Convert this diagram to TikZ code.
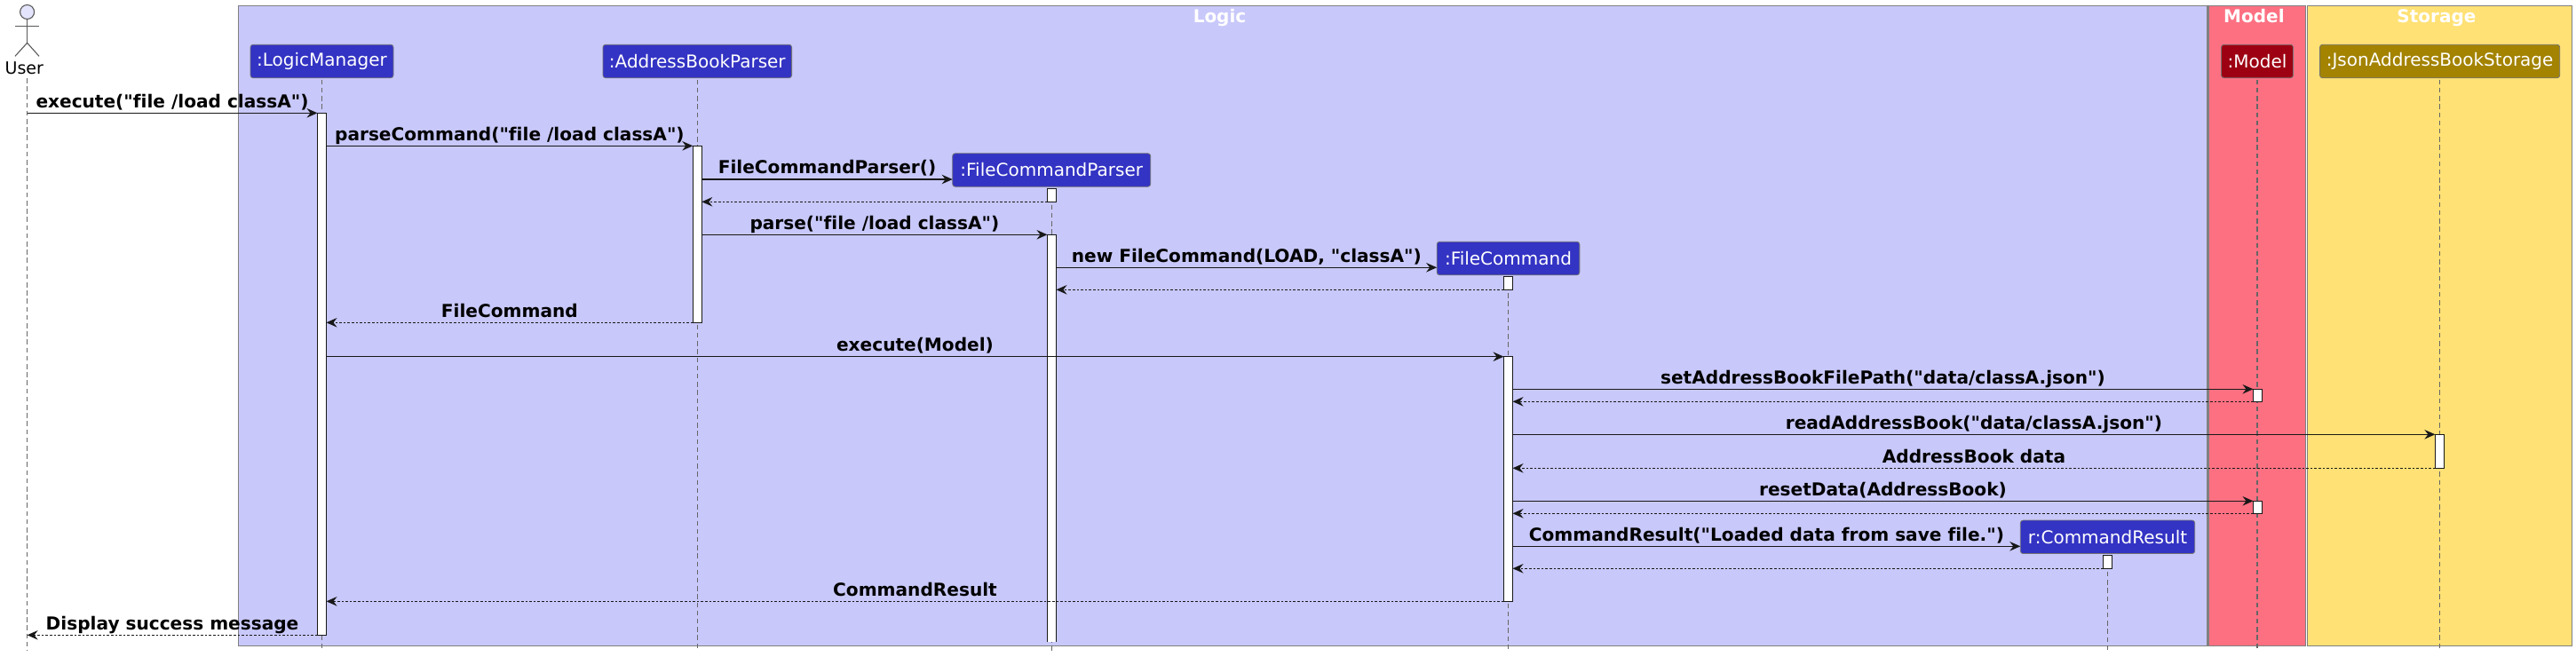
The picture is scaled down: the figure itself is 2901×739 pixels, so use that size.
\documentclass[tikz,border=0pt]{standalone}
\usepackage{fontspec}
\newfontfamily\diagramfont[Ligatures=NoCommon]{DejaVu Sans}
\usetikzlibrary{arrows.meta}
\definecolor{logicfill}{HTML}{C8C8FA}
\definecolor{logicdark}{HTML}{3333C4}
\definecolor{modelfill}{HTML}{FD7082}
\definecolor{modeldark}{HTML}{9D0012}
\definecolor{storagefill}{HTML}{FFE175}
\definecolor{storagedark}{HTML}{A38300}
\definecolor{inkline}{HTML}{181818}
\begin{document}
\begin{tikzpicture}[
    x=1pt, y=-1pt,
    every node/.style={inner sep=0pt, outer sep=0pt},
    groupbox/.style={rectangle, draw=black!50, line width=1.3pt, minimum height=721pt},
    grouptitle/.style={anchor=base, xshift=-3.5pt, yshift=-18.7pt, text=white, font=\diagramfont\fontsize{20}{24}\selectfont\bfseries},
    partbox/.style={rectangle, rounded corners=3pt, minimum height=37.5pt, text=white, draw=black!55, line width=0.8pt, font=\diagramfont\fontsize{20}{24}\selectfont},
    lifeline/.style={draw=black!60, line width=1.1pt, dash pattern=on 5.5pt off 3.7pt, shorten <=2pt},
    activebar/.style={rectangle, anchor=north, fill=white, draw=inkline, line width=1.5pt, minimum width=10pt},
    callmsg/.style={draw=inkline, line width=1.3pt, -{Stealth[length=12pt, width=10.5pt, inset=4pt]}},
    replymsg/.style={draw=inkline, line width=1.1pt, dash pattern=on 2.6pt off 2pt, -{Stealth[length=12pt, width=10.5pt, inset=4pt]}},
    msglabel/.style={midway, anchor=base, yshift=6.2pt, text=black, font=\diagramfont\fontsize{20.1}{24}\selectfont\bfseries}
]
    \useasboundingbox (0,0) rectangle (2901,739);
    \coordinate (lineend) at (0,733);

    % groups
    \node[groupbox, fill=logicfill, minimum width=2217pt] (logicbox) at (1377,366.8) {};
    \node[groupbox, fill=modelfill, minimum width=109.7pt] (modelbox) at (2541.9,366.8) {};
    \node[groupbox, fill=storagefill, minimum width=298pt] (storagebox) at (2747.4,366.8) {};
    \node[grouptitle] (logictitle) at (logicbox.north) {Logic};
    \node[grouptitle] (modeltitle) at (modelbox.north) {Model};
    \node[grouptitle] (storagetitle) at (storagebox.north) {Storage};

    % actor
    \node[circle, draw=black!65, fill=logicfill!50!white, line width=1.1pt, minimum size=16pt] (userhead) at (30.6,13.5) {};
    \coordinate (userhip) at (30.6,48.3);
    \coordinate (userleftarm) at (17,29.3);
    \coordinate (userrightarm) at (44,29.3);
    \coordinate (userleftfoot) at (17,63.3);
    \coordinate (userrightfoot) at (44,63.3);
    \draw[draw=black!65, line width=1.1pt] (userhead.south) -- (userhip);
    \draw[draw=black!65, line width=1.1pt] (userleftarm) -- (userrightarm);
    \draw[draw=black!65, line width=1.1pt] (userleftfoot) -- (userhip) -- (userrightfoot);
    \node[anchor=base, font=\diagramfont\fontsize{19}{24}\selectfont] (usertext) at (27.3,83.3) {User};
    \coordinate (usertop) at (30.6,86);

    % participants
    \node[partbox, fill=logicdark, minimum width=161pt] (manager) at (362.5,69) {:LogicManager};
    \node[partbox, fill=logicdark, minimum width=212.6pt] (parser) at (785.3,69) {:AddressBookParser};
    \node[partbox, fill=logicdark, minimum width=223pt] (fileparser) at (1184.2,191.5) {:FileCommandParser};
    \node[partbox, fill=logicdark, minimum width=160.7pt] (filecommand) at (1698.5,291) {:FileCommand};
    \node[partbox, fill=logicdark, minimum width=196.4pt] (result) at (2373.5,604.8) {r:CommandResult};
    \node[partbox, fill=modeldark, minimum width=81pt] (model) at (2542,69) {:Model};
    \node[partbox, fill=storagedark, minimum width=270.2pt] (storage) at (2747.6,69) {:JsonAddressBookStorage};

    % lifelines
    \draw[lifeline] (usertop) -- (usertop |- lineend);
    \draw[lifeline] (manager.south) -- (manager.south |- lineend);
    \draw[lifeline] (parser.south) -- (parser.south |- lineend);
    \draw[lifeline] (fileparser.south) -- (fileparser.south |- lineend);
    \draw[lifeline] (filecommand.south) -- (filecommand.south |- lineend);
    \draw[lifeline] (result.south) -- (result.south |- lineend);
    \draw[lifeline] (model.south) -- (model.south |- lineend);
    \draw[lifeline] (storage.south) -- (storage.south |- lineend);

    % activations
    \node[activebar, minimum height=588pt] (managerbar) at (362.5,127.3) {};
    \node[activebar, minimum height=199pt] (parserbar) at (785.3,164.3) {};
    \node[activebar, minimum height=15pt] (fileparserbarA) at (1184.5,212.3) {};
    \node[activebar, draw=none, minimum height=459pt] (fileparserbarB) at (1184.5,264.3) {};
    \draw[draw=inkline, line width=1.5pt] (fileparserbarB.south west) -- (fileparserbarB.north west) -- (fileparserbarB.north east) -- (fileparserbarB.south east);
    \node[activebar, minimum height=15pt] (filecommandbarA) at (1698.5,311.3) {};
    \node[activebar, minimum height=275.6pt] (filecommandbarB) at (1698.5,401.7) {};
    \node[activebar, minimum height=14pt] (modelbarA) at (2542.5,438.3) {};
    \node[activebar, minimum height=38pt] (storagebar) at (2747.4,489.3) {};
    \node[activebar, minimum height=14pt] (modelbarB) at (2542.5,564.3) {};
    \node[activebar, minimum height=15pt] (resultbar) at (2373.5,625.3) {};

    % messages
    \draw[callmsg] (usertop |- managerbar.north) -- (managerbar.north west) node[msglabel] {execute("file /load classA")};
    \draw[callmsg] (managerbar.east |- parserbar.north) -- (parserbar.north west) node[msglabel] {parseCommand("file /load classA")};
    \draw[callmsg] (parserbar.east |- 0,202) -- (fileparser.west |- 0,202) node[msglabel] {FileCommandParser()};
    \draw[replymsg] (fileparserbarA.south west) -- (parserbar.east |- fileparserbarA.south);
    \draw[callmsg] (parserbar.east |- fileparserbarB.north) -- (fileparserbarB.north west) node[msglabel] {parse("file /load classA")};
    \draw[callmsg] (fileparserbarB.east |- 0,301.3) -- (filecommand.west |- 0,301.3) node[msglabel] {new FileCommand(LOAD, "classA")};
    \draw[replymsg] (filecommandbarA.south west) -- (fileparserbarB.east |- filecommandbarA.south);
    \draw[replymsg] (parserbar.south west) -- (managerbar.east |- parserbar.south) node[msglabel] {FileCommand};
    \draw[callmsg] (managerbar.east |- filecommandbarB.north) -- (filecommandbarB.north west) node[msglabel] {execute(Model)};
    \draw[callmsg] (filecommandbarB.east |- modelbarA.north) -- (modelbarA.north west) node[msglabel] {setAddressBookFilePath("data/classA.json")};
    \draw[replymsg] (modelbarA.south west) -- (filecommandbarB.east |- modelbarA.south);
    \draw[callmsg] (filecommandbarB.east |- storagebar.north) -- (storagebar.north west) node[msglabel] {readAddressBook("data/classA.json")};
    \draw[replymsg] (storagebar.south west) -- (filecommandbarB.east |- storagebar.south) node[msglabel] {AddressBook data};
    \draw[callmsg] (filecommandbarB.east |- modelbarB.north) -- (modelbarB.north west) node[msglabel] {resetData(AddressBook)};
    \draw[replymsg] (modelbarB.south west) -- (filecommandbarB.east |- modelbarB.south);
    \draw[callmsg] (filecommandbarB.east |- 0,615.3) -- (result.west |- 0,615.3) node[msglabel] {CommandResult("Loaded data from save file.")};
    \draw[replymsg] (resultbar.south west) -- (filecommandbarB.east |- resultbar.south);
    \draw[replymsg] (filecommandbarB.south west) -- (managerbar.east |- filecommandbarB.south) node[msglabel] {CommandResult};
    \draw[replymsg] (managerbar.south west) -- (usertop |- managerbar.south) node[msglabel] {Display success message};
\end{tikzpicture}
\end{document}
